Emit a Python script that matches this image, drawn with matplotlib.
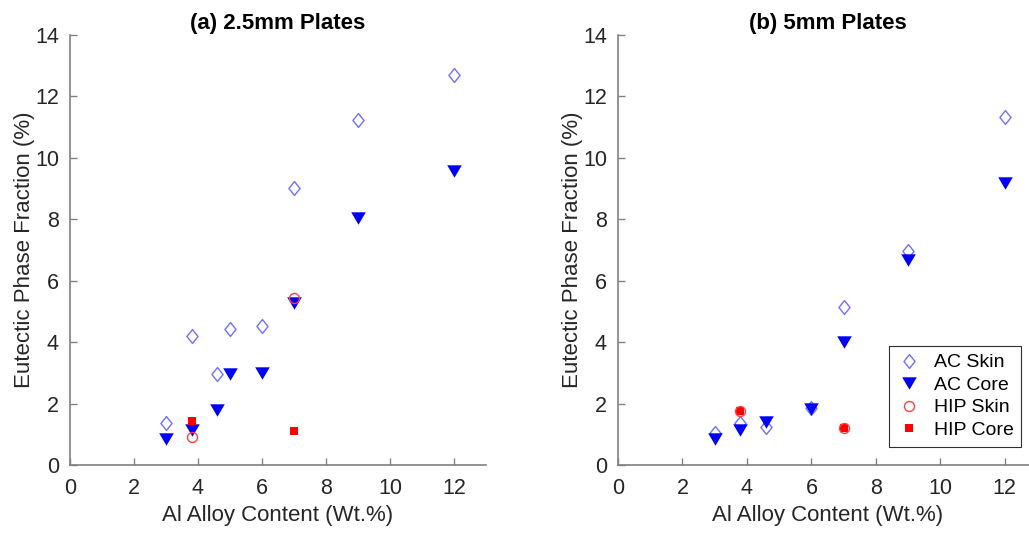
import matplotlib
matplotlib.use("Agg")
from matplotlib import pyplot as plt
from matplotlib.path import Path

plt.rcParams['font.family'] = ['Liberation Sans', 'DejaVu Sans']

# (a) 2.5mm plates
a_ac_x = [3, 3.8, 4.6, 5, 6, 7, 9, 12]
a_ac_skin = [1.37, 4.2, 2.97, 4.42, 4.52, 9.03, 11.24, 12.7]
a_ac_core = [0.85, 1.14, 1.8, 2.97, 3.0, 5.27, 8.05, 9.58]
a_hip_x = [3.8, 7]
a_hip_skin = [0.9, 5.45]
a_hip_core = [1.42, 1.1]

# (b) 5mm plates
b_ac_x = [3, 3.8, 4.6, 6, 7, 9, 12]
b_ac_skin = [1.03, 1.37, 1.25, 1.85, 5.14, 6.97, 11.33]
b_ac_core = [0.85, 1.14, 1.4, 1.82, 4.02, 6.68, 9.19]
b_hip_x = [3.8, 7]
b_hip_skin = [1.77, 1.22]
b_hip_core = [1.77, 1.22]

titles = ['(a) 2.5mm Plates', '(b) 5mm Plates']
ticks_x = [0, 2, 4, 6, 8, 10, 12]
ticks_y = [0, 2, 4, 6, 8, 10, 12, 14]

# matlab style markers
diamond = Path([(0, 1), (0.8, 0), (0, -1), (-0.8, 0), (0, 1)], closed=True)
tri_down = Path([(-1, 0.85), (1, 0.85), (0, -0.85), (-1, 0.85)], closed=True)

fig = plt.figure(figsize=(10.29, 5.33), dpi=100)
ax1 = fig.add_axes([70/1029, 68/533, 416/1029, 430/533])
ax2 = fig.add_axes([618/1029, 68/533, 419/1029, 430/533])

sets = [(ax1, a_ac_x, a_ac_skin, a_ac_core, a_hip_x, a_hip_skin, a_hip_core),
        (ax2, b_ac_x, b_ac_skin, b_ac_core, b_hip_x, b_hip_skin, b_hip_core)]

for i, (ax, acx, skin, core, hx, hskin, hcore) in enumerate(sets):
    ax.plot(acx, skin, marker=diamond, ms=10, mfc='none', mec='#7070ff',
            mew=1.0, label='AC Skin', linestyle='none')
    ax.plot(acx, core, marker=tri_down, ms=10.5, color='#0000f5', mew=0,
            label='AC Core', linestyle='none')
    ax.plot(hx, hcore, 's', ms=5.5, color='#ff0000', mew=0,
            label='HIP Core', linestyle='none')
    ax.plot(hx, hskin, 'o', ms=7.2, mfc='none', mec='#ff4040', mew=1.0,
            label='HIP Skin', linestyle='none')
    ax.set_xlim(0, 13)
    ax.set_ylim(0, 14)
    ax.set_xticks(ticks_x)
    ax.set_yticks(ticks_y)
    ax.tick_params(direction='in', length=5, width=1, color='#808080',
                   labelcolor='#262626', labelsize=15.5)
    ax.tick_params(axis='x', pad=9)
    ax.tick_params(axis='y', pad=8)
    for s in ['top', 'right']:
        ax.spines[s].set_visible(False)
    for s in ['left', 'bottom']:
        ax.spines[s].set_color('#808080')
        ax.spines[s].set_linewidth(1.2)
    ax.set_xlabel('Al Alloy Content (Wt.%)', fontsize=16, color='#262626',
                  labelpad=5)
    ax.set_ylabel('Eutectic Phase Fraction (%)', fontsize=16,
                  color='#262626', labelpad=0)
    ax.set_title(titles[i], fontsize=16, fontweight='bold', pad=4)

handles, labels = ax2.get_legend_handles_labels()
order = [0, 1, 3, 2]
leg = ax2.legend([handles[k] for k in order], [labels[k] for k in order],
                 loc='upper left', bbox_to_anchor=(889/1029, (533-346)/533),
                 bbox_transform=fig.transFigure, fontsize=14,
                 fancybox=False, edgecolor='#303030', framealpha=1,
                 handletextpad=0.6, borderpad=0.4, labelspacing=0.25,
                 handlelength=1.3, borderaxespad=0)
leg.get_frame().set_linewidth(0.8)

fig.savefig('out.png', dpi=100)
